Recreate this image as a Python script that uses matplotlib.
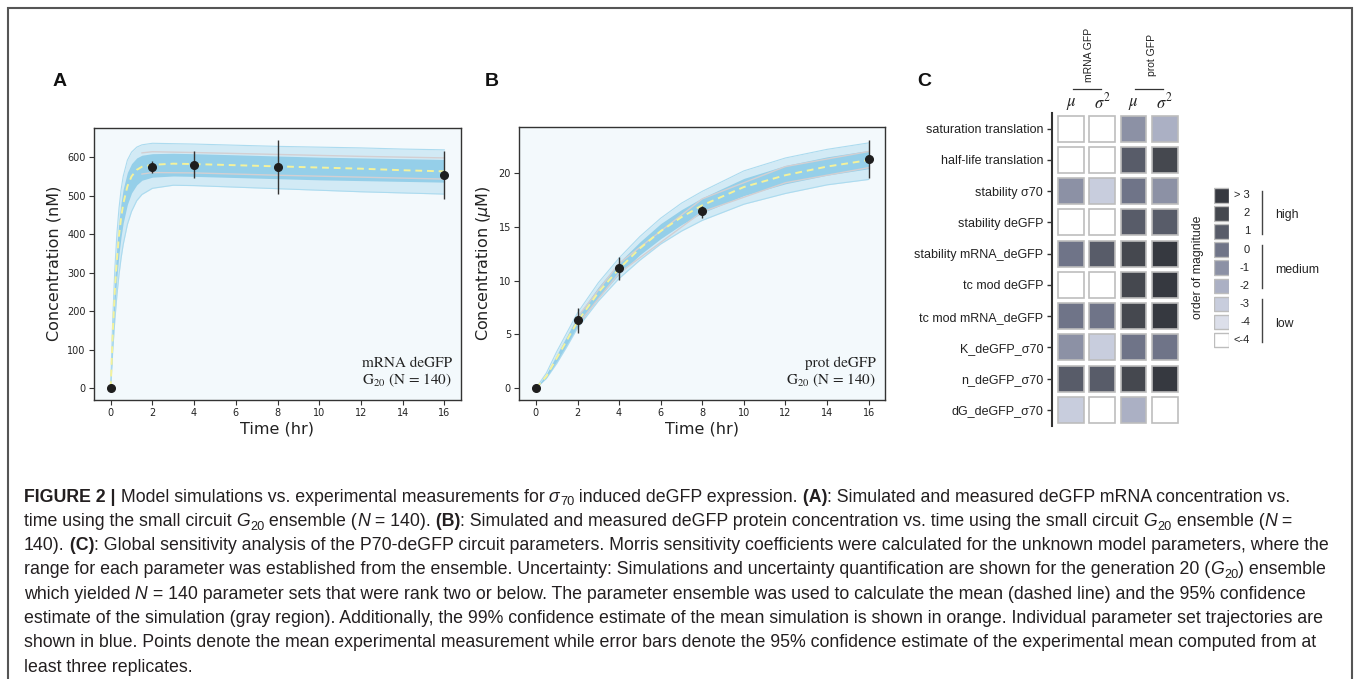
import matplotlib
matplotlib.use("Agg")
import matplotlib.pyplot as plt
from matplotlib.patches import Rectangle
import numpy as np

W, H = 1358, 679
DPI = 100
SANS = ["Liberation Sans", "DejaVu Sans"]
CAP_FONT = ["Liberation Sans Narrow", "Liberation Sans", "DejaVu Sans"]

# ---------------- panel A : mRNA deGFP (nM) ----------------
t_a = [0, 0.1, 0.2, 0.3, 0.4, 0.5, 0.6, 0.8, 1.0, 1.25, 1.5, 2, 3, 4, 6, 8, 10, 12, 14, 16]
mean_a = [0, 145, 254, 336, 397, 443, 478, 524, 550, 567, 575, 580, 583, 582, 579, 576, 573, 570, 566, 563]
outer_hi_a = [0, 180, 310, 402, 468, 516, 550, 592, 613, 626, 632, 636, 635, 634, 631, 628, 626, 624, 621, 619]
outer_lo_a = [0, 98, 177, 242, 295, 338, 373, 425, 459, 487, 503, 519, 527, 526, 522, 518, 514, 510, 507, 504]
core_hi_a = [0, 163, 284, 371, 435, 482, 517, 560, 583, 598, 605, 609, 610, 609, 606, 603, 600, 598, 596, 594]
core_lo_a = [0, 122, 217, 291, 349, 394, 429, 477, 507, 528, 540, 548, 551, 550, 547, 544, 541, 539, 537, 535]
gray_t_a = [1.5, 2, 4, 8, 12, 16]
gray_hi_a = [611, 614, 612, 607, 602, 598]
gray_lo_a = [556, 560, 559, 553, 548, 543]

# ---------------- panel B : protein deGFP (uM) ----------------
t_b = [0, 0.5, 1, 1.5, 2, 3, 4, 5, 6, 7, 8, 10, 12, 14, 16]
mean_b = [0, 1.1, 2.8, 4.5, 6.2, 8.9, 11.1, 13.0, 14.6, 15.9, 17.0, 18.7, 19.8, 20.6, 21.2]
outer_hi_b = [0, 1.4, 3.4, 5.2, 7.0, 9.8, 12.1, 14.1, 15.8, 17.2, 18.3, 20.2, 21.4, 22.2, 22.8]
outer_lo_b = [0, 0.9, 2.3, 3.9, 5.6, 8.1, 10.2, 11.9, 13.4, 14.6, 15.6, 17.1, 18.1, 18.9, 19.4]
core_hi_b = [0, 1.3, 3.1, 4.9, 6.7, 9.4, 11.7, 13.6, 15.3, 16.6, 17.7, 19.5, 20.7, 21.5, 22.1]
core_lo_b = [0, 1.0, 2.5, 4.1, 5.8, 8.4, 10.6, 12.4, 13.9, 15.2, 16.3, 17.9, 19.0, 19.8, 20.4]
gray_t_b = [2, 4, 8, 12, 16]
gray_hi_b = [6.6, 11.6, 17.6, 20.6, 22.0]
gray_lo_b = [5.9, 10.7, 16.4, 19.1, 20.5]

# measurements (mean, 95% CI)
exp_t = [0, 2, 4, 8, 16]
exp_a = [0, 575, 580, 575, 554]
exp_a_lo = [0, 560, 545, 504, 492]
exp_a_hi = [0, 589, 615, 645, 617]
exp_b = [0, 6.3, 11.2, 16.5, 21.3]
exp_b_lo = [0, 5.15, 10.1, 15.85, 19.5]
exp_b_hi = [0, 7.47, 12.2, 16.9, 23.07]

# ---------------- panel C : sensitivity ----------------
row_labels = ["saturation translation", "half-life translation", "stability \u03c370",
              "stability deGFP", "stability mRNA_deGFP", "tc mod deGFP",
              "tc mod mRNA_deGFP", "K_deGFP_\u03c370", "n_deGFP_\u03c370", "dG_deGFP_\u03c370"]
col_labels = [r"$\mu$", r"$\sigma^2$", r"$\mu$", r"$\sigma^2$"]
group_labels = ["mRNA GFP", "prot GFP"]
group_cols = [(0, 1), (2, 3)]
legend_labels = ["> 3", "2", "1", "0", "-1", "-2", "-3", "-4", "<-4"]
legend_colors = ["#363940", "#45484f", "#585c69", "#6f7488", "#8c91a5",
                 "#abb0c4", "#c8cddd", "#dcdfea", "#ffffff"]
legend_groups = [("high", 0, 2), ("medium", 3, 5), ("low", 6, 8)]
# index into legend_labels for every cell (0 = "> 3", 8 = "<-4")
levels = [
    [8, 8, 4, 5],
    [8, 8, 2, 1],
    [4, 6, 3, 4],
    [8, 8, 2, 2],
    [3, 2, 1, 0],
    [8, 8, 1, 0],
    [3, 3, 1, 0],
    [4, 6, 3, 3],
    [2, 2, 1, 0],
    [6, 8, 5, 8],
]

# ---------------- caption ----------------
caption = [
    [("FIGURE 2 | ", "b"), ("Model simulations vs. experimental measurements for ", "n"),
     ("\u03c3", "i"), ("70", "s"), (" induced deGFP expression. ", "n"), ("(A)", "b"),
     (": Simulated and measured deGFP mRNA concentration vs.", "n")],
    [("time using the small circuit ", "n"), ("G", "i"), ("20", "s"), (" ensemble (", "n"),
     ("N", "i"), (" = 140). ", "n"), ("(B)", "b"),
     (": Simulated and measured deGFP protein concentration vs. time using the small circuit ", "n"),
     ("G", "i"), ("20", "s"), (" ensemble (", "n"), ("N", "i"), (" =", "n")],
    [("140). ", "n"), ("(C)", "b"),
     (": Global sensitivity analysis of the P70-deGFP circuit parameters. Morris sensitivity "
      "coefficients were calculated for the unknown model parameters, where the", "n")],
    [("range for each parameter was established from the ensemble. Uncertainty: Simulations and "
      "uncertainty quantification are shown for the generation 20 (", "n"), ("G", "i"), ("20", "s"),
     (") ensemble", "n")],
    [("which yielded ", "n"), ("N", "i"),
     (" = 140 parameter sets that were rank two or below. The parameter ensemble was used to "
      "calculate the mean (dashed line) and the 95% confidence", "n")],
    [("estimate of the simulation (gray region). Additionally, the 99% confidence estimate of the "
      "mean simulation is shown in orange. Individual parameter set trajectories are", "n")],
    [("shown in blue. Points denote the mean experimental measurement while error bars denote the "
      "95% confidence estimate of the experimental mean computed from at", "n")],
    [("least three replicates.", "n")],
]
caption_ends = [1240, 1335, 1345, 1342, 1332, 1340, 1330, 130]


def px_rect(x0, y0, x1, y1):
    return [x0 / W, 1 - y1 / H, (x1 - x0) / W, (y1 - y0) / H]


fig = plt.figure(figsize=(W / DPI, H / DPI), dpi=DPI)
fig.patch.set_facecolor("white")

# outer frame
fig.patches.append(Rectangle((7.5 / W, -0.02), (1352 - 7.5) / W, 1 - 8 / H + 0.02,
                             transform=fig.transFigure, fill=False, ec="#555555", lw=1.5))


def traj_panel(rect, t, mean, ohi, olo, chi, clo, gt, ghi, glo, ex, elo, ehi,
               ylim, yticks, ylabel, tag1):
    ax = fig.add_axes(rect)
    ax.set_facecolor("#f3f9fc")
    ax.fill_between(t, olo, ohi, color="#d2eaf5", lw=0, zorder=1)
    ax.plot(t, ohi, color="#acdbef", lw=0.8, zorder=1.2)
    ax.plot(t, olo, color="#acdbef", lw=0.8, zorder=1.2)
    ax.fill_between(t, clo, chi, color="#95cfe9", lw=0, zorder=1.5)
    ax.plot(gt, ghi, color="#d3cfd2", lw=1.0, zorder=2)
    ax.plot(gt, glo, color="#d3cfd2", lw=1.0, zorder=2)
    ax.plot(t, mean, color="#f4f29c", lw=1.4, dashes=(3.5, 2.5), zorder=3)
    ex = np.array(ex)
    yerr = [ex - np.array(elo), np.array(ehi) - ex]
    ax.errorbar(exp_t, ex, yerr=yerr, fmt="o", color="#1e1e1e", ms=5.5,
                ecolor="#333333", elinewidth=1.0, capsize=0, zorder=4)
    ax.set_xlim(-0.8, 16.8)
    ax.set_ylim(*ylim)
    ax.set_xticks(range(0, 17, 2))
    ax.set_yticks(yticks)
    ax.tick_params(labelsize=7, length=3.5, width=0.8, color="#333333",
                   labelcolor="#222222", pad=2.5)
    for s in ax.spines.values():
        s.set_color("#333333")
        s.set_linewidth(1.0)
    ax.set_xlabel("Time (hr)", fontsize=11.5, labelpad=2, color="#222222")
    ax.set_ylabel(ylabel, fontsize=11.5, labelpad=4, color="#222222")
    ax.text(0.975, 0.122, tag1, transform=ax.transAxes, ha="right", va="baseline",
            fontsize=11, family="STIXGeneral", color="#222222")
    ax.text(0.975, 0.059, r"G$_{20}$ (N = 140)", transform=ax.transAxes, ha="right",
            va="baseline", fontsize=11, family="STIXGeneral", math_fontfamily="stix",
            color="#222222")
    return ax


traj_panel(px_rect(94, 127.5, 461, 400), t_a, mean_a, outer_hi_a, outer_lo_a,
           core_hi_a, core_lo_a, gray_t_a, gray_hi_a, gray_lo_a,
           exp_a, exp_a_lo, exp_a_hi, (-31, 677), range(0, 601, 100),
           "Concentration (nM)", "mRNA deGFP")
traj_panel(px_rect(519.3, 127.3, 885.3, 400), t_b, mean_b, outer_hi_b, outer_lo_b,
           core_hi_b, core_lo_b, gray_t_b, gray_hi_b, gray_lo_b,
           exp_b, exp_b_lo, exp_b_hi, (-1.1, 24.25), [0, 5, 10, 15, 20],
           r"Concentration ($\mu$M)", "prot deGFP")

# ---- heatmap
hx = fig.add_axes(px_rect(1052.3, 112.9, 1180.3, 425.6))
hx.set_xlim(-0.6, 3.5)
hx.set_ylim(len(row_labels) - 0.5, -0.5)
hx.patch.set_alpha(0)
for k in ["top", "right", "bottom"]:
    hx.spines[k].set_visible(False)
hx.spines["left"].set_color("#333333")
hx.spines["left"].set_linewidth(1.5)
hx.set_xticks([])
hx.set_yticks(range(len(row_labels)))
hx.set_yticklabels(row_labels, fontsize=9, family=SANS, color="#222222")
hx.tick_params(axis="y", length=3.6, width=1.0, color="#333333", pad=3)
for i, row in enumerate(levels):
    for j, lv in enumerate(row):
        hx.add_patch(Rectangle((j - 0.415, i - 0.415), 0.83, 0.83,
                               facecolor=legend_colors[lv], edgecolor="#bdbdbd", lw=1.2))
for j, lab in enumerate(col_labels):
    hx.text(j, -0.82, lab, ha="center", va="center", fontsize=12, math_fontfamily="stix",
            color="#222222")
for lab, (c0, c1) in zip(group_labels, group_cols):
    hx.text((c0 + c1) / 2 + 0.08, -2.35, lab, rotation=90, ha="center", va="center",
            fontsize=7.5, family=SANS, color="#222222")
    hx.plot([c0 + 0.05, c1 - 0.05], [-1.25, -1.25], color="#333333", lw=0.9, clip_on=False)

# ---- legend
lx = fig.add_axes(px_rect(1214, 186.25, 1229, 349.15))
lx.set_xlim(0, 1)
lx.set_ylim(len(legend_labels) - 0.5, -0.5)
lx.axis("off")
for i, (lab, col) in enumerate(zip(legend_labels, legend_colors)):
    lx.add_patch(Rectangle((0, i - 0.4), 1, 0.8, facecolor=col, edgecolor="#bdbdbd", lw=1.0))
    lx.text(2.4, i, lab, ha="right", va="center", fontsize=8, family=SANS, color="#222222")
for lab, g0, g1 in legend_groups:
    lx.plot([3.22, 3.22], [g0 - 0.25, g1 + 0.12], color="#444444", lw=1.0, clip_on=False)
    lx.text(4.07, (g0 + g1) / 2 + 0.1, lab, ha="left", va="center", fontsize=8.8,
            family=SANS, color="#222222")
lx.text(-1.05, (len(legend_labels) - 1) / 2, "order of magnitude", rotation=90, ha="center",
        va="center", fontsize=8.8, family=SANS, color="#222222")

# ---- panel letters
for letter, x in [("A", 53), ("B", 485), ("C", 917)]:
    fig.text(x / W, 1 - 86 / H, letter, fontsize=14, weight="bold", family=SANS,
             va="baseline", ha="left", color="#111111")

# ---- caption, runs of mixed style placed one after another
renderer = fig.canvas.get_renderer()


def shift_spaces(runs):
    out, carry = [], ""
    for txt, kind in runs:
        txt = carry + txt
        stripped = txt.rstrip(" ")
        carry = txt[len(stripped):]
        out.append((stripped, kind))
    return out


def put_line(runs, x0, base, size):
    arts = []
    x = x0
    for txt, kind in shift_spaces(runs):
        if not txt:
            continue
        kw = dict(fontsize=size, family=CAP_FONT, color="#231f20")
        y = base
        if kind == "b":
            kw["weight"] = "bold"
        elif kind == "i":
            kw["style"] = "italic"
        elif kind == "s":
            kw["fontsize"] = size * 0.72
            y = base + 0.22 * size * DPI / 72
        t = fig.text(x / W, 1 - y / H, txt, ha="left", va="baseline", **kw)
        x += t.get_window_extent(renderer).width
        arts.append(t)
    return x - x0, arts


def draw_caption(size):
    widths, arts = [], []
    for k, runs in enumerate(caption):
        w, a = put_line(runs, 24, 501.5 + 24.3 * k, size)
        widths.append(w)
        arts += a
    return widths, arts


w0, tmp = draw_caption(10)
for a in tmp:
    a.remove()
fit = 10 * sum(e - 24 for e in caption_ends) / sum(w0)
draw_caption(fit)

fig.savefig("out.png", dpi=DPI)
